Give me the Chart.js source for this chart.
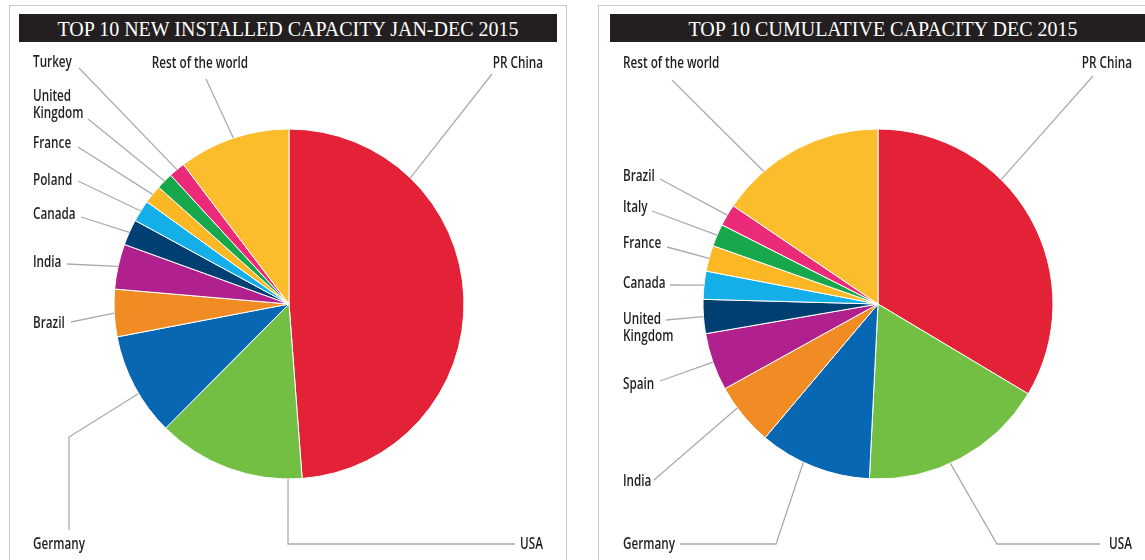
<!DOCTYPE html>
<html>
<head>
<meta charset="utf-8">
<script src="https://cdn.jsdelivr.net/npm/chart.js@4.4.1/dist/chart.umd.min.js"></script>
<style>
body { margin: 0; background: #fff; width: 1145px; height: 560px; overflow: hidden; position: relative; }
.panel { position: absolute; top: 5px; height: 600px; border: 1px solid #c9c9c9; border-bottom: none; }
.title { position: absolute; top: 14px; height: 28px; background: #231f20; color: #fff;
         font: 20px 'Liberation Serif', 'DejaVu Serif', serif; line-height: 30px;
         text-align: center; white-space: nowrap; }
canvas { position: absolute; left: 0; top: 0; }
</style>
</head>
<body>
<div class="panel" style="left:9px; width:556px;"></div>
<div class="panel" style="left:598px; width:600px;"></div>
<div class="title" style="left:19px; width:538px;">TOP 10 NEW INSTALLED CAPACITY JAN-DEC 2015</div>
<div class="title" style="left:610px; width:546px;">TOP 10 CUMULATIVE CAPACITY DEC 2015</div>
<canvas id="newChart" width="1145" height="560"></canvas>
<canvas id="cumChart" width="1145" height="560"></canvas>
<script>
// New installations 2015 (MW)
const newCountries = ['PR China', 'USA', 'Germany', 'Brazil', 'India', 'Canada', 'Poland', 'France', 'United Kingdom', 'Turkey', 'Rest of the world'];
const newMW = [30753, 8598, 6013, 2754, 2623, 1506, 1266, 1073, 975, 956, 6496];

// Cumulative at end of 2015 (MW)
const cumCountries = ['PR China', 'USA', 'Germany', 'India', 'Spain', 'United Kingdom', 'Canada', 'France', 'Italy', 'Brazil', 'Rest of the world'];
const cumMW = [145362, 74471, 44947, 25088, 23025, 13603, 11205, 10358, 8958, 8715, 67151];

const newColors = ['#e32237', '#72bf44', '#0767b2', '#f08c23', '#b0218e', '#003f72', '#14aee8', '#fbb824', '#17a84b', '#ec2a7a', '#fbbd2b'];
const cumColors = ['#e32237', '#72bf44', '#0767b2', '#f08c23', '#b0218e', '#003f72', '#14aee8', '#fbb824', '#17a84b', '#ec2a7a', '#fbbd2b'];

const LABEL_FONT = "600 17px 'Open Sans', 'Noto Sans', sans-serif";
const LABEL_SQUEEZE = 0.69;   // narrow the label text horizontally

// where each label sits and how its leader line bends (page px); 'at' = where on the slice arc the line lands
const newSpots = [
    { x: 543, y: 63, align: 'right', path: [[492, 74]], at: 0.25 },
    { x: 543, y: 544, align: 'right', path: [[515, 544], [288, 544]], at: 0.094 },
    { x: 33, y: 544, align: 'left', path: [[69, 530], [69, 437]], at: 0.42 },
    { x: 33, y: 323, align: 'left', path: [[71, 322]] },
    { x: 33, y: 262, align: 'left', path: [[67, 264]] },
    { x: 33, y: 214, align: 'left', path: [[81, 217]] },
    { x: 33, y: 180, align: 'left', path: [[78, 181]] },
    { x: 33, y: 143, align: 'left', path: [[78, 147]] },
    { x: 33, y: 96, align: 'left', path: [[88, 119]], wrap: true },
    { x: 33, y: 62, align: 'left', path: [[79, 68]] },
    { x: 200, y: 63, align: 'center', path: [[206, 79]] }
];

const cumSpots = [
    { x: 1132, y: 63, align: 'right', path: [[1093, 76]], at: 0.37 },
    { x: 1132, y: 544, align: 'right', path: [[1100, 544], [997, 544]], at: 0.56 },
    { x: 623, y: 544, align: 'left', path: [[680, 544], [776, 544]], at: 0.6 },
    { x: 623, y: 481, align: 'left', path: [[654, 480]], at: 0.64 },
    { x: 623, y: 384, align: 'left', path: [[660, 381]] },
    { x: 623, y: 319, align: 'left', path: [[666, 320]], wrap: true },
    { x: 623, y: 283, align: 'left', path: [[670, 285]] },
    { x: 623, y: 243, align: 'left', path: [[667, 247]] },
    { x: 623, y: 207, align: 'left', path: [[652, 211]] },
    { x: 623, y: 176, align: 'left', path: [[660, 179]] },
    { x: 623, y: 63, align: 'left', path: [[672, 80]], at: 0.27 }
];

// draws the grey leader lines from the slice edge to each name
function leaderLabels(names, spots) {
    return {
        id: 'leaderLabels',
        afterDraw(chart) {
            const ctx = chart.ctx;
            const arcs = chart.getDatasetMeta(0).data;
            ctx.save();
            ctx.strokeStyle = '#a9abae';
            ctx.lineWidth = 1.3;
            ctx.font = LABEL_FONT;
            ctx.fillStyle = '#231f20';
            ctx.textBaseline = 'middle';
            spots.forEach((s, i) => {
                const p = arcs[i].getProps(['x', 'y', 'startAngle', 'endAngle', 'outerRadius'], true);
                const a = p.startAngle + (p.endAngle - p.startAngle) * (s.at ?? 0.5);
                ctx.beginPath();
                ctx.moveTo(s.path[0][0], s.path[0][1]);
                s.path.slice(1).forEach(pt => ctx.lineTo(pt[0], pt[1]));
                ctx.lineTo(p.x + Math.cos(a) * p.outerRadius, p.y + Math.sin(a) * p.outerRadius);
                ctx.stroke();
                ctx.textAlign = s.align;
                const lines = s.wrap ? names[i].split(' ') : [names[i]];
                lines.forEach((t, k) => {
                    ctx.save();
                    ctx.translate(s.x, s.y + k * 17);
                    ctx.scale(LABEL_SQUEEZE, 1);
                    ctx.fillText(t, 0, 0);
                    ctx.restore();
                });
            });
            ctx.restore();
        }
    };
}

function makePie(id, names, values, colors, spots, padding) {
    const ctx = document.getElementById(id).getContext('2d');
    return new Chart(ctx, {
        type: 'pie',
        data: {
            labels: names,
            datasets: [{
                data: values,
                backgroundColor: colors,
                borderColor: '#ffffff',
                borderWidth: 1,
                radius: 175
            }]
        },
        options: {
            responsive: false,
            animation: false,
            layout: { padding: padding },
            plugins: {
                legend: { display: false },
                tooltip: { enabled: false }
            }
        },
        plugins: [leaderLabels(names, spots)]
    });
}

// both canvases cover the page; padding puts each pie centre where it belongs
makePie('newChart', newCountries, newMW, newColors, newSpots, { left: 0, right: 567, top: 48, bottom: 0 });
makePie('cumChart', cumCountries, cumMW, cumColors, cumSpots, { left: 611, right: 0, top: 48, bottom: 0 });
</script>
</body>
</html>
